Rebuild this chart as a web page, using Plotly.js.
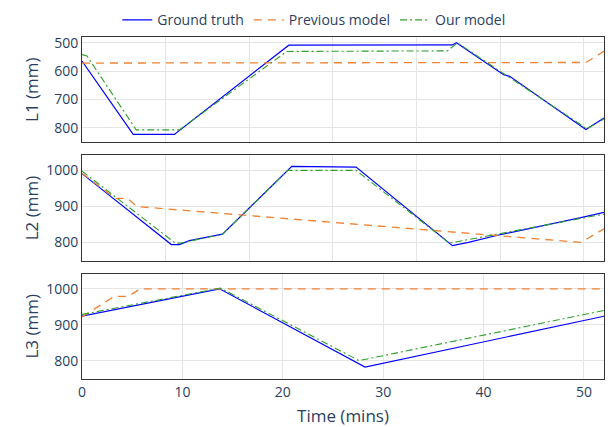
<!DOCTYPE html>
<html>
<head>
<meta charset="utf-8">
<script src="https://cdn.plot.ly/plotly-3.0.1.min.js"></script>
<style>html,body{margin:0;padding:0;background:#fff;}#chart{width:608px;height:427px;}</style>
</head>
<body>
<div id="chart"></div>
<script>
// ---- Data (time in minutes, lengths in mm) ----
const gt1_t = [0, 5.1, 9.2, 20.6, 36.9, 37.3, 42.0, 42.6, 50.2, 52];
const gt1_v = [564, 823, 823, 508, 507, 499, 612, 618, 806, 765];
const prev1_t = [0, 50.2, 52];
const prev1_v = [571, 569, 529];
const our1_t = [0, 0.5, 5.4, 9.7, 20.4, 36.4, 37.4, 50.3, 52];
const our1_v = [541, 546, 807, 807, 530, 528, 500, 803, 768];

const gt2_t = [0, 8.9, 9.7, 10.7, 14.0, 20.9, 27.3, 36.9, 38.5, 41.4, 49.7, 52];
const gt2_v = [991, 793, 793, 804, 822, 1011, 1009, 790, 799, 819, 868, 883];
const prev2_t = [0, 3.3, 4.5, 5.5, 49.7, 52];
const prev2_v = [992, 922, 922, 899, 799, 837];
const our2_t = [0, 9.3, 9.8, 14.0, 20.5, 27.3, 36.6, 51.8, 52];
const our2_v = [998, 797, 797, 822, 1000, 1000, 797, 877, 878];

const gt3_t = [0, 13.7, 28.2, 52];
const gt3_v = [924, 1000, 783, 924];
const prev3_t = [0, 3.2, 4.6, 5.8, 52];
const prev3_v = [922, 979, 979, 1000, 1000];
const our3_t = [0, 13.8, 27.6, 52];
const our3_v = [929, 1002, 801, 940];

const seriesNames = ["Ground truth", "Previous model", "Our model"];
const yTitles = ["L1 (mm)", "L2 (mm)", "L3 (mm)"];
const xTitle = "Time (mins)";

// ---- Styles ----
const styles = [
  {color: "#0000ff", width: 1.2, dash: "solid"},
  {color: "#ee8436", width: 1.3, dash: "8px,6px"},
  {color: "#2ca02c", width: 1.1, dash: "7px,3px,2px,3px"}
];

const panels = [
  {x: ["x", "y"], data: [[gt1_t, gt1_v], [prev1_t, prev1_v], [our1_t, our1_v]]},
  {x: ["x2", "y2"], data: [[gt2_t, gt2_v], [prev2_t, prev2_v], [our2_t, our2_v]]},
  {x: ["x3", "y3"], data: [[gt3_t, gt3_v], [prev3_t, prev3_v], [our3_t, our3_v]]}
];

const traces = [];
panels.forEach((p, pi) => {
  p.data.forEach((d, si) => {
    traces.push({
      type: "scatter", mode: "lines",
      x: d[0], y: d[1],
      xaxis: p.x[0], yaxis: p.x[1],
      name: seriesNames[si],
      legendgroup: seriesNames[si],
      showlegend: pi === 0,
      line: styles[si]
    });
  });
});

const axisBase = {
  showline: true, mirror: true, linecolor: "#333", linewidth: 1,
  showgrid: true, gridcolor: "#e5e5e5", gridwidth: 1,
  zeroline: false, ticks: ""
};

const layout = {
  width: 608, height: 427,
  margin: {l: 82, r: 4, t: 34, b: 48},
  paper_bgcolor: "#fff", plot_bgcolor: "#fff",
  font: {family: "Open Sans, sans-serif", size: 14, color: "#2a3f5f"},
  showlegend: true,
  legend: {orientation: "h", x: 0.444, xanchor: "center", y: 1.049, yanchor: "middle",
           bgcolor: "rgba(0,0,0,0)"},
  xaxis: Object.assign({}, axisBase, {domain: [0, 1], anchor: "y", range: [0, 52],
           showticklabels: false, tick0: 0, dtick: 25/3}),
  yaxis: Object.assign({}, axisBase, {domain: [0.692, 1], anchor: "x", range: [851, 479],
           dtick: 100, title: {text: yTitles[0]}}),
  xaxis2: Object.assign({}, axisBase, {domain: [0, 1], anchor: "y2", range: [0, 52],
           showticklabels: false, tick0: 0, dtick: 25/3}),
  yaxis2: Object.assign({}, axisBase, {domain: [0.346, 0.654], anchor: "x2", range: [748, 1042],
           dtick: 100, title: {text: yTitles[1]}}),
  xaxis3: Object.assign({}, axisBase, {domain: [0, 1], anchor: "y3", range: [0, 52],
           dtick: 10, title: {text: xTitle}}),
  yaxis3: Object.assign({}, axisBase, {domain: [0, 0.308], anchor: "x3", range: [750, 1042],
           dtick: 100, title: {text: yTitles[2]}})
};

Plotly.newPlot("chart", traces, layout, {displayModeBar: false, staticPlot: true});
</script>
</body>
</html>
